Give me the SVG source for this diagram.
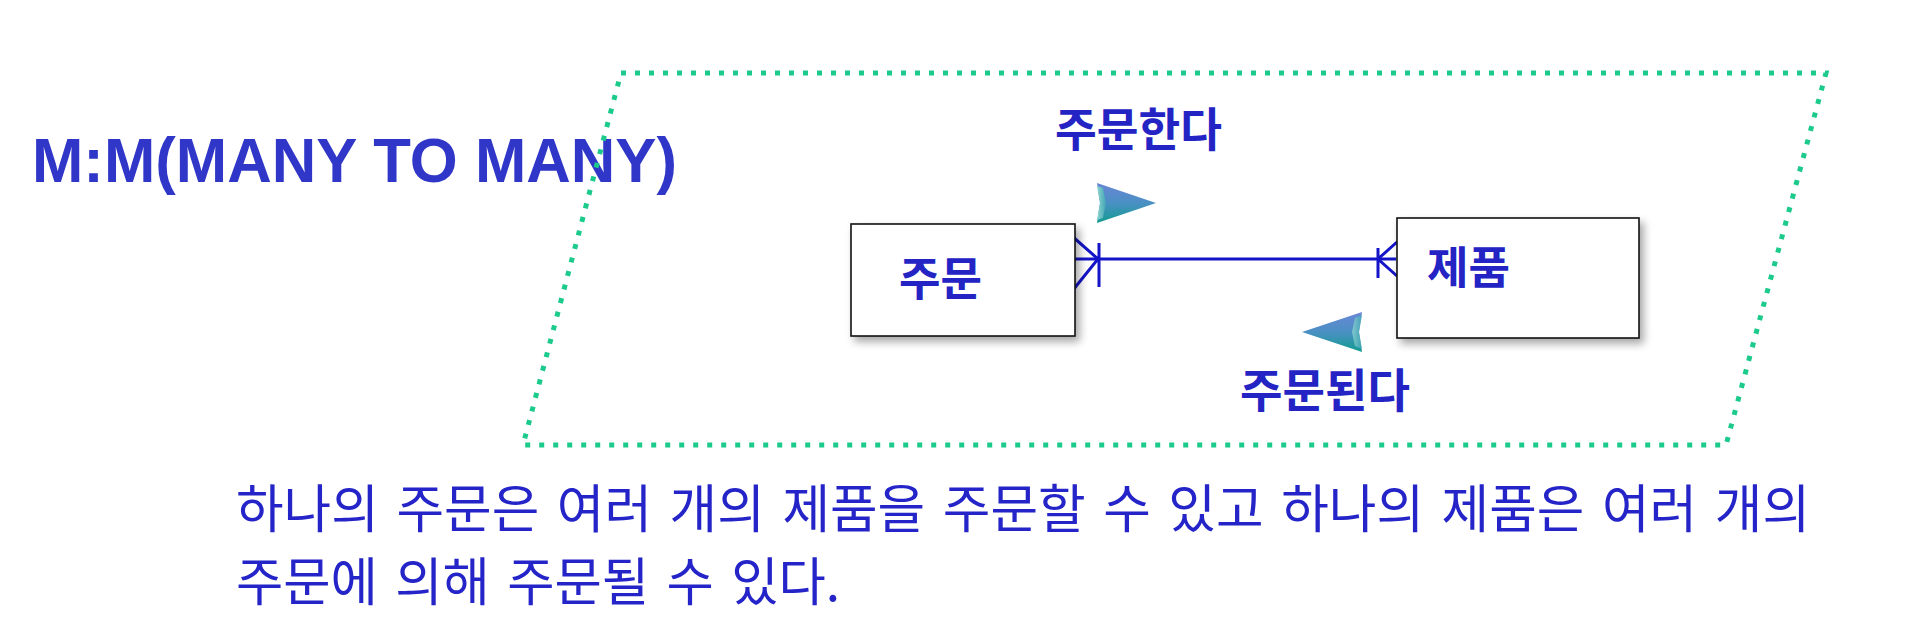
<svg xmlns="http://www.w3.org/2000/svg" width="1920" height="633" viewBox="0 0 1920 633">
<defs>
<style>
.title{font-family:"Liberation Sans",Arial,sans-serif;font-weight:bold;font-size:63px;fill:#2f36c8}
.lbl{font-family:"Noto Sans CJK KR","Noto Sans",sans-serif;font-weight:bold;fill:#2424c4}
.body{font-family:"Noto Sans CJK KR","Noto Sans",sans-serif;font-size:52px;fill:#2424c8;word-spacing:6px}
.box{fill:#ffffff;stroke:#111111;stroke-width:1.6}
.rel{fill:none;stroke:#1414c8;stroke-width:3}
.frame{fill:none;stroke:#1ccb8c;stroke-width:5;stroke-dasharray:5 9}
</style>
<filter id="sh" x="-10%" y="-10%" width="130%" height="140%">
<feGaussianBlur in="SourceAlpha" stdDeviation="4"/>
<feOffset dx="4" dy="5" result="b"/>
<feComponentTransfer><feFuncA type="linear" slope="0.35"/></feComponentTransfer>
<feMerge><feMergeNode/><feMergeNode in="SourceGraphic"/></feMerge>
</filter>
<linearGradient id="ag" x1="0" y1="0" x2="0" y2="1">
<stop offset="0" stop-color="#6a86d6"/>
<stop offset="0.5" stop-color="#4a90c4"/>
<stop offset="1" stop-color="#129c90"/>
</linearGradient>
<linearGradient id="ab" x1="0" y1="0" x2="1" y2="0">
<stop offset="0" stop-color="#8fd6d0"/>
<stop offset="1" stop-color="#40a4b4"/>
</linearGradient>
</defs>
<rect width="1920" height="633" fill="#ffffff"/>

<g id="title">
<text class="title" x="32" y="182" textLength="645" lengthAdjust="spacingAndGlyphs">M:M(MANY TO MANY)</text>
</g>

<g id="frame">
<polygon class="frame" points="621,73 1826,73 1726,445 523,445"/>
</g>

<g id="connectors">
<line class="rel" x1="1073" y1="259" x2="1396" y2="259"/>
<path class="rel" d="M1073,237 L1073,290 M1073,237 L1098,259 L1073,290 M1099,243 L1099,287"/>
<path class="rel" d="M1378,248 L1378,278 M1397,242 L1378,259 L1397,276"/>
</g>

<g id="node-order">
<rect class="box" x="851" y="224" width="224" height="112" filter="url(#sh)"/>
<text class="lbl" x="899" y="295" font-size="46" textLength="83" lengthAdjust="spacingAndGlyphs">주문</text>
</g>

<g id="node-product">
<rect class="box" x="1397" y="218" width="242" height="120" filter="url(#sh)"/>
<text class="lbl" x="1427" y="284" font-size="44" textLength="83" lengthAdjust="spacingAndGlyphs">제품</text>
</g>

<g id="arrow-right">
<polygon points="1097,183 1156,203 1097,223 1100,203" fill="url(#ag)"/>
<polygon points="1097,186 1103,188 1106,203 1103,218 1097,220 1100,203" fill="url(#ab)"/>
</g>
<g id="arrow-left">
<polygon points="1362,312 1302,332 1362,352 1359,332" fill="url(#ag)"/>
<polygon points="1362,315 1355,318 1352,332 1355,346 1362,349 1359,332" fill="url(#ab)" opacity="0.8"/>
</g>

<g id="label-orders">
<text class="lbl" x="1055" y="146" font-size="46" textLength="167" lengthAdjust="spacingAndGlyphs">주문한다</text>
</g>
<g id="label-ordered">
<text class="lbl" x="1240" y="407" font-size="46" textLength="170" lengthAdjust="spacingAndGlyphs">주문된다</text>
</g>

<g id="description">
<text class="body" x="236" y="528" textLength="1574" lengthAdjust="spacingAndGlyphs">하나의 주문은 여러 개의 제품을 주문할 수 있고 하나의 제품은 여러 개의</text>
<text class="body" x="236" y="601" textLength="604" lengthAdjust="spacingAndGlyphs">주문에 의해 주문될 수 있다.</text>
</g>
</svg>
